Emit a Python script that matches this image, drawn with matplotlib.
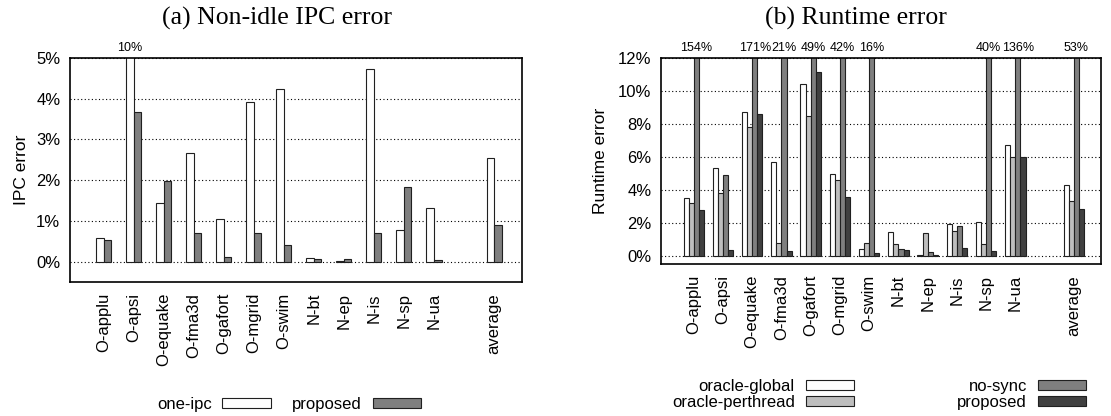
import numpy as np
import matplotlib
matplotlib.use("Agg")
import matplotlib.pyplot as plt
from matplotlib.patches import Patch
from matplotlib.ticker import FuncFormatter
import matplotlib.transforms as mtransforms

plt.rcParams['font.family'] = ['Liberation Sans', 'DejaVu Sans']

# benchmarks (same for both panels)
benchmarks = ['O-applu', 'O-apsi', 'O-equake', 'O-fma3d', 'O-gafort', 'O-mgrid',
              'O-swim', 'N-bt', 'N-ep', 'N-is', 'N-sp', 'N-ua', 'average']

# (a) non-idle IPC error, %
ipc_one_ipc = [0.57, 10.0, 1.43, 2.66, 1.04, 3.91, 4.24, 0.10, 0.02, 4.74, 0.77, 1.31, 2.54]
ipc_proposed = [0.52, 3.67, 1.98, 0.70, 0.12, 0.70, 0.40, 0.07, 0.07, 0.70, 1.84, 0.03, 0.89]

# (b) runtime error, %
rt_oracle_global = [3.48, 5.34, 8.74, 5.71, 10.43, 4.94, 0.40, 1.44, 0.04, 1.94, 2.02, 6.72, 4.29]
rt_oracle_perthread = [3.20, 3.81, 7.81, 0.77, 8.46, 4.60, 0.77, 0.73, 1.38, 1.48, 0.71, 6.01, 3.32]
rt_no_sync = [154, 4.88, 171, 21, 49, 42, 16, 0.40, 0.22, 1.80, 40, 136, 53]
rt_proposed = [2.75, 0.34, 8.62, 0.26, 11.17, 3.56, 0.16, 0.34, 0.06, 0.49, 0.28, 6.01, 2.85]

# gap before "average"
xpos = np.array(list(range(12)) + [13])

W, H = 1111, 416
fig = plt.figure(figsize=(W / 100, H / 100), dpi=100)

ax1 = fig.add_axes([70 / W, 1 - 282 / H, 452 / W, 224 / H])
ax2 = fig.add_axes([661 / W, 1 - 264 / H, 440 / W, 206 / H])

pct = FuncFormatter(lambda v, p: '%d%%' % v)
edge = dict(edgecolor='#202020', linewidth=0.8)


def style(ax, ymax, step, ylabel, lpad):
    ax.set_xlim(-1.12, 13.93)
    ax.set_ylim(-0.5, ymax)
    ax.set_yticks(np.arange(0, ymax + 0.01, step))
    ax.yaxis.set_major_formatter(pct)
    ax.set_xticks(xpos)
    ax.set_xticklabels(benchmarks, rotation=90, va='top', ha='center')
    ax.tick_params(axis='y', length=0, pad=7, labelsize=12)
    ax.tick_params(axis='x', length=0, pad=8, labelsize=12)
    ax.grid(axis='y', color='black', linestyle=(0, (1, 2.2)), linewidth=0.8)
    ax.set_axisbelow(True)
    for s in ax.spines.values():
        s.set_linewidth(1.2)
    ax.set_ylabel(ylabel, fontsize=12.5, labelpad=lpad)


# ---- (a)
w1 = 0.25
ax1.bar(xpos - w1 / 2, ipc_one_ipc, w1, color='white', **edge)
ax1.bar(xpos + w1 / 2, ipc_proposed, w1, color='#7f7f7f', **edge)
style(ax1, 5, 1, 'IPC error', 5)
tr1 = mtransforms.blended_transform_factory(ax1.transData, ax1.transAxes)
for x, v in zip(xpos, ipc_one_ipc):
    if v > 5:
        ax1.text(x - w1 / 2, 1.045, '%d%%' % round(v), transform=tr1,
                 ha='center', va='center', fontsize=9)

# ---- (b)
w2 = 0.175
ax2.bar(xpos - 1.5 * w2, rt_oracle_global, w2, color='white', **edge)
ax2.bar(xpos - 0.5 * w2, rt_oracle_perthread, w2, color='#bebebe', **edge)
ax2.bar(xpos + 0.5 * w2, rt_no_sync, w2, color='#7f7f7f', **edge)
ax2.bar(xpos + 1.5 * w2, rt_proposed, w2, color='#404040', **edge)
style(ax2, 12, 2, 'Runtime error', 7)
tr2 = mtransforms.blended_transform_factory(ax2.transData, ax2.transAxes)
for x, v in zip(xpos, rt_no_sync):
    if v > 12:
        ax2.text(x + 0.5 * w2, 1.05, '%d%%' % round(v), transform=tr2,
                 ha='center', va='center', fontsize=9)

# titles
fig.text(277 / W, 1 - 18 / H, '(a) Non-idle IPC error', ha='center', va='center',
         fontsize=18.5, family=['Liberation Serif', 'DejaVu Serif'])
fig.text(856 / W, 1 - 18 / H, '(b) Runtime error', ha='center', va='center',
         fontsize=18.5, family=['Liberation Serif', 'DejaVu Serif'])

# legends
leg_kw = dict(frameon=False, markerfirst=False, fontsize=12, handlelength=2.9,
              handleheight=0.55, handletextpad=0.65, borderpad=0, labelspacing=0.05)
h1 = [Patch(facecolor='white', **edge), Patch(facecolor='#7f7f7f', **edge)]
fig.legend(h1, ['one-ipc', 'proposed'], ncol=2, loc='center',
           bbox_to_anchor=(289 / W, 1 - 404 / H), columnspacing=1.3, **leg_kw)
h2 = [Patch(facecolor='white', **edge), Patch(facecolor='#bebebe', **edge),
      Patch(facecolor='#7f7f7f', **edge), Patch(facecolor='#404040', **edge)]
fig.legend(h2, ['oracle-global', 'oracle-perthread', 'no-sync', 'proposed'], ncol=2,
           loc='center', bbox_to_anchor=(879 / W, 1 - 394.5 / H), columnspacing=6.2,
           **leg_kw)

fig.savefig('out.png', dpi=100)
